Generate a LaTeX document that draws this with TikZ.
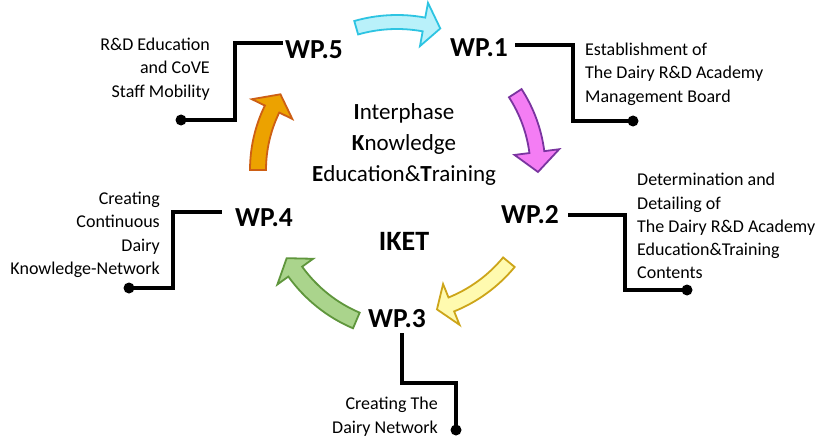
\documentclass[tikz,border=0pt]{standalone}
\usepackage{fontspec}
\setmainfont{Carlito}
\usetikzlibrary{calc}
\definecolor{cyanfill}{RGB}{185,241,250}
\definecolor{cyanline}{RGB}{45,196,226}
\definecolor{magfill}{RGB}{244,125,244}
\definecolor{magline}{RGB}{122,52,160}
\definecolor{yelfill}{RGB}{255,250,175}
\definecolor{yelline}{RGB}{205,165,25}
\definecolor{grnfill}{RGB}{170,212,140}
\definecolor{grnline}{RGB}{95,150,60}
\definecolor{orgfill}{RGB}{236,162,0}
\definecolor{orgline}{RGB}{205,95,20}
% #1,#2 centre; #3 radius; #4 tail angle; #5 head base angle; #6 tip angle; #7 half body width; #8 half head width; #9 style
\newcommand{\ikarrow}[9]{%
  \path[#9] ($(#1,#2)+(#4:#3+#7)$) arc[start angle=#4, end angle=#5, radius=#3+#7]
    -- ($(#1,#2)+(#5:#3+#8)$) -- ($(#1,#2)+(#6:#3)$) -- ($(#1,#2)+(#5:#3-#8)$)
    -- ($(#1,#2)+(#5:#3-#7)$) arc[start angle=#5, end angle=#4, radius=#3-#7] -- cycle;}
\begin{document}
\begin{tikzpicture}[x=1pt,y=-1pt,
  conn/.style={line width=3.3pt, black},
  dotnode/.style={circle, fill=black, inner sep=0pt, minimum size=11pt},
  wp/.style={font=\fontsize{27.5}{27.5}\selectfont\bfseries, inner sep=0pt},
  desc/.style={font=\fontsize{18}{23.3}\selectfont, inner sep=0pt},
  arrowshape/.style={line width=1.8pt, line join=miter}]
\useasboundingbox (0,0) rectangle (821,441);
\fill[white] (0,0) rectangle (821,441);

% curved block arrows
\ikarrow{397}{170}{148}{-106}{-79.5}{-73}{7}{22}{arrowshape, fill=cyanfill, draw=cyanline}
\ikarrow{397}{170}{141}{-33}{-7.3}{0.8}{7.5}{22.5}{arrowshape, fill=magfill, draw=magline}
\ikarrow{397}{170}{145}{39.5}{68}{74}{7.5}{22}{arrowshape, fill=yelfill, draw=yelline}
\ikarrow{413}{187}{145}{113}{144.3}{150.6}{8.5}{22}{arrowshape, fill=grnfill, draw=grnline}
\ikarrow{397}{170}{139}{180}{206}{213}{8}{22.5}{arrowshape, fill=orgfill, draw=orgline}

% work package labels
\node[wp] (wp5) at (314,49.5) {WP.5};
\node[wp] (wp1) at (479,48) {WP.1};
\node[wp] (wp2) at (530,215) {WP.2};
\node[wp] (wp3) at (397,319) {WP.3};
\node[wp] (wp4) at (264,217.5) {WP.4};

% centre texts
\node[font=\fontsize{23}{31}\selectfont, align=center, inner sep=0pt] (centre) at (404,144)
  {\textbf{I}nterphase\\\textbf{K}nowledge\\\textbf{E}ducation\&\textbf{T}raining};
\node[font=\fontsize{28}{28}\selectfont\bfseries, inner sep=0pt] (iket) at (404,241) {IKET};

% end dots
\node[dotnode] (d5) at (181,120) {};
\node[dotnode] (d1) at (633,121) {};
\node[dotnode] (d2) at (687,290) {};
\node[dotnode] (d3) at (456,430) {};
\node[dotnode] (d4) at (129,288) {};

% connectors
\draw[conn] ([xshift=-2pt,yshift=6.5pt]wp5.west) -| ($(d5)+(54,0)$) -- (d5.center);
\draw[conn] ([xshift=7pt,yshift=3pt]wp1.east) -| ($(d1)+(-60,0)$) -- (d1.center);
\draw[conn] ([xshift=9pt]wp2.east) -| ($(d2)+(-62,0)$) -- (d2.center);
\draw[conn] ([xshift=5pt,yshift=-5pt]wp3.south) |- ($(d3)+(0,-47)$) -- (d3.center);
\draw[conn] ([xshift=-13pt,yshift=5.5pt]wp4.west) -| ($(d4)+(44,0)$) -- (d4.center);

% descriptions
\node[desc, align=right, anchor=north east] (t5) at (210,38)
  {R\&D Education\\and CoVE\\Staff Mobility};
\node[desc, align=left, anchor=north west] (t1) at (585,43)
  {Establishment of\\The Dairy R\&D Academy\\Management Board};
\node[desc, align=left, anchor=north west] (t2) at (637,173)
  {Determination and\\Detailing of\\The Dairy R\&D Academy\\Education\&Training\\Contents};
\node[desc, align=right, anchor=north east] (t3) at (438,397)
  {Creating The\\Dairy Network};
\node[desc, align=right, anchor=north east] (t4) at (160,192)
  {Creating\\Continuous\\Dairy\\Knowledge-Network};
\end{tikzpicture}
\end{document}
